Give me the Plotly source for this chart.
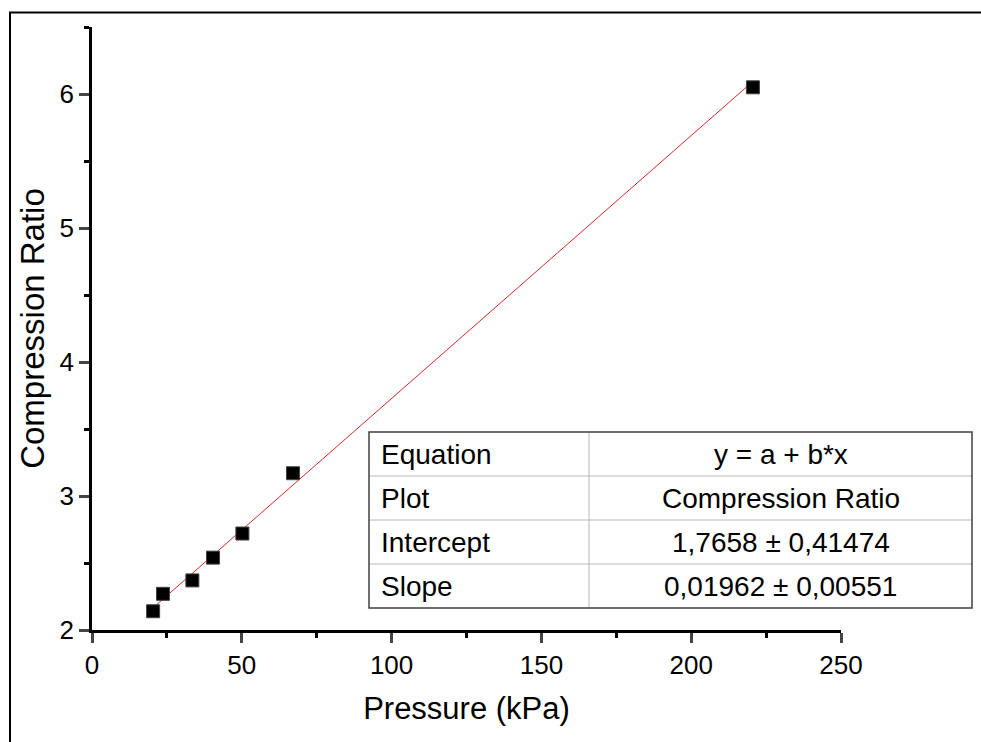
import plotly.graph_objects as go

# ---- data ----
pressure = [20.4, 23.7, 33.5, 40.4, 50.2, 67.1, 220.6]
ratio = [2.14, 2.27, 2.37, 2.54, 2.72, 3.17, 6.05]
intercept = 1.7658
slope = 0.01962
table_labels = ["Equation", "Plot", "Intercept", "Slope"]
table_values = ["y = a + b*x", "Compression Ratio", "1,7658 ± 0,41474", "0,01962 ± 0,00551"]
x_ticks = [0, 50, 100, 150, 200, 250]
y_ticks = [2, 3, 4, 5, 6]

# ---- layout geometry (pixels) ----
W, H = 981, 742
L, R, T, B = 92, 140, 27, 112
PW, PH = W - L - R, H - T - B
FONT = "Arial, Liberation Sans, sans-serif"


def px(x):
    return (x - L) / PW


def py(y):
    return (H - B - y) / PH


x_fit = [min(pressure), max(pressure)]
y_fit = [intercept + slope * v for v in x_fit]

fig = go.Figure()
fig.add_trace(go.Scatter(x=x_fit, y=y_fit, mode="lines",
                         line=dict(color="rgb(214,40,40)", width=1),
                         showlegend=False, hoverinfo="skip"))
fig.add_trace(go.Scatter(x=pressure, y=ratio, mode="markers",
                         marker=dict(symbol="square", size=13, color="black",
                                     line=dict(color="#444", width=1)),
                         showlegend=False))

shapes = []
# outer frame (left and top edges)
shapes.append(dict(type="line", xref="paper", yref="paper",
                   x0=px(10), x1=px(10), y0=py(H + 5), y1=py(12.5),
                   line=dict(color="black", width=2)))
shapes.append(dict(type="line", xref="paper", yref="paper",
                   x0=px(9), x1=px(W + 5), y0=py(12.5), y1=py(12.5),
                   line=dict(color="black", width=2)))

# fit table
tl, tr, tt, tb, tc = 369, 972, 432, 608, 589
n = len(table_labels)
rh = (tb - tt) / n
annotations = []
for i in range(1, n):
    yy = tt + i * rh
    shapes.append(dict(type="line", xref="paper", yref="paper",
                       x0=px(tl), x1=px(tr), y0=py(yy), y1=py(yy),
                       line=dict(color="#b8b8b8", width=1)))
shapes.append(dict(type="line", xref="paper", yref="paper",
                   x0=px(tc), x1=px(tc), y0=py(tt), y1=py(tb),
                   line=dict(color="#b8b8b8", width=1)))
shapes.append(dict(type="rect", xref="paper", yref="paper",
                   x0=px(tl), x1=px(tr), y0=py(tb), y1=py(tt),
                   line=dict(color="#404040", width=1.5)))
for i, (lab, val) in enumerate(zip(table_labels, table_values)):
    yc = tt + (i + 0.5) * rh
    annotations.append(dict(xref="paper", yref="paper", x=px(tl + 10), y=py(yc),
                            text=lab, showarrow=False, xanchor="left", yanchor="middle",
                            font=dict(family=FONT, size=28, color="black")))
    annotations.append(dict(xref="paper", yref="paper", x=px((tc + tr) / 2), y=py(yc),
                            text=val, showarrow=False, xanchor="center", yanchor="middle",
                            font=dict(family=FONT, size=28, color="black")))

fig.update_layout(
    width=W, height=H,
    margin=dict(l=L, r=R, t=T, b=B, autoexpand=False),
    paper_bgcolor="white", plot_bgcolor="white",
    font=dict(family=FONT, color="black"),
    shapes=shapes, annotations=annotations,
    xaxis=dict(range=[0, 250], tickvals=x_ticks, ticks="outside", ticklen=10, tickwidth=2.5,
               showline=True, linewidth=2.5, linecolor="black", showgrid=False, zeroline=False,
               tickfont=dict(size=26, family=FONT), automargin=False,
               minor=dict(dtick=25, tick0=0, ticks="outside", ticklen=5, tickwidth=2.5,
                          tickcolor="black", showgrid=False),
               title=dict(text="Pressure (kPa)", font=dict(size=31, family=FONT), standoff=19)),
    yaxis=dict(range=[2, 6.5], tickvals=y_ticks, ticks="outside", ticklen=10, tickwidth=2.5,
               showline=True, linewidth=2.5, linecolor="black", showgrid=False, zeroline=False,
               tickfont=dict(size=26, family=FONT), automargin=False,
               minor=dict(dtick=0.5, tick0=2, ticks="outside", ticklen=5, tickwidth=2.5,
                          tickcolor="black", showgrid=False),
               title=dict(text="Compression Ratio", font=dict(size=33, family=FONT), standoff=6)),
)

fig.write_html("out.html")
